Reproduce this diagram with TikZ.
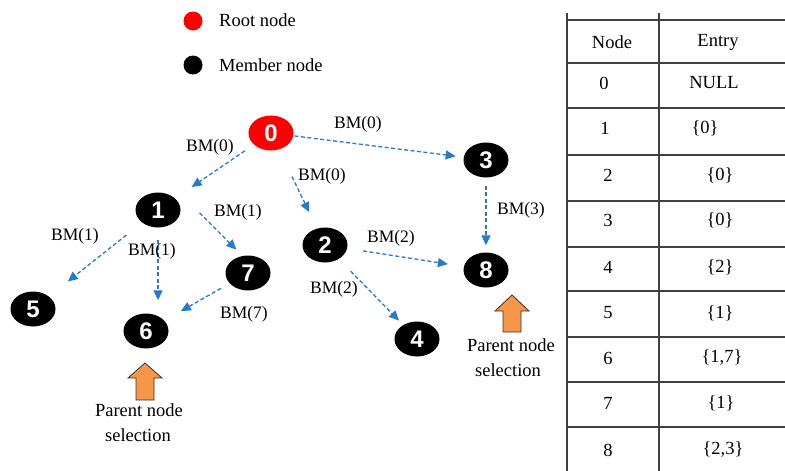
\documentclass[tikz,border=0pt]{standalone}
\usepackage{fontspec}
\setmainfont{Liberation Serif}
\newfontfamily\numfont{Liberation Sans}
\usetikzlibrary{shapes.geometric,arrows.meta}

\definecolor{bmblue}{RGB}{38,122,204}
\definecolor{pickorange}{RGB}{245,150,72}

\tikzset{
  member/.style={ellipse,fill=black,minimum width=45pt,minimum height=35pt,inner sep=0pt,
    text=white,font=\numfont\bfseries\fontsize{24}{24}\selectfont},
  root/.style={member,fill=red},
  bm/.style={bmblue,line width=1.3pt,dash pattern=on 4pt off 2.5pt,
    -{Triangle[length=10pt,width=9pt]}},
  bmlabel/.style={inner sep=1pt,font=\fontsize{17.5}{20}\selectfont},
  cell/.style={inner sep=0pt,font=\fontsize{18.5}{20}\selectfont},
  pick/.style={fill=pickorange,draw=black!80,line width=0.8pt},
  grid/.style={black!75,line width=1.8pt}
}

\begin{document}
\begin{tikzpicture}[x=1pt,y=-1pt]
  \useasboundingbox (0,0) rectangle (785,471);

  % legend
  \node[circle,fill=red,minimum size=19pt,inner sep=0pt] (keyroot) at (193,21) {};
  \node[circle,fill=black,minimum size=19pt,inner sep=0pt] (keymember) at (193,65) {};
  \node[cell,anchor=west] (keyroottext) at (219,20) {Root node};
  \node[cell,anchor=west] (keymembertext) at (219,65) {Member node};

  % tree
  \node[root] (n0) at (271,133) {0};
  \node[member] (n1) at (158,210) {1};
  \node[member] (n2) at (325,245) {2};
  \node[member] (n3) at (486,160) {3};
  \node[member] (n4) at (417,339) {4};
  \node[member] (n5) at (33,309) {5};
  \node[member] (n6) at (146,331) {6};
  \node[member] (n7) at (248,273) {7};
  \node[member] (n8) at (486,270) {8};

  \draw[bm,shorten <=11pt,shorten >=20pt] (n0) -- (n1);
  \draw[bm,shorten <=1pt,shorten >=8pt] (n0) -- (n3);
  \draw[bm,shorten <=30pt,shorten >=18pt] (n0) -- (n2);
  \draw[bm,shorten <=20pt,shorten >=24pt] (n1) -- (n5);
  \draw[bm,shorten <=12pt,shorten >=13pt] (n1.south) -- (n1.south |- n6.north);
  \draw[bm,shorten <=4pt,shorten >=8pt] ([xshift=16pt]n1.east) -- ([xshift=-6pt]n7.north);
  \draw[bm,shorten <=10pt,shorten >=19pt] (n7) -- (n6);
  \draw[bm,shorten <=8pt,shorten >=7pt] (n3.south) -- (n8.north);
  \draw[bm,shorten <=16pt,shorten >=16pt] (n2) -- (n8);
  \draw[bm,shorten <=17pt,shorten >=6pt] (n2) -- (n4);

  \node[bmlabel] (l01) at (210,147) {BM(0)};
  \node[bmlabel] (l03) at (358,124) {BM(0)};
  \node[bmlabel] (l02) at (322,176) {BM(0)};
  \node[bmlabel] (l17) at (238,212) {BM(1)};
  \node[bmlabel] (l15) at (75,236) {BM(1)};
  \node[bmlabel] (l16) at (152,251) {BM(1)};
  \node[bmlabel] (l76) at (244,314) {BM(7)};
  \node[bmlabel] (l38) at (521,210) {BM(3)};
  \node[bmlabel] (l28) at (391,238) {BM(2)};
  \node[bmlabel] (l24) at (334,289) {BM(2)};

  % parent selection marks
  \draw[pick] (136,400) -- ++(0,-22) -- ++(-8,0) -- ++(17,-15) -- ++(17,15) -- ++(-8,0) -- ++(0,22) -- cycle;
  \draw[pick] (503,332) -- ++(0,-21) -- ++(-8,0) -- ++(17,-16) -- ++(17,16) -- ++(-8,0) -- ++(0,21) -- cycle;
  \node[cell] (sel6a) at (139,410) {Parent node};
  \node[cell] (sel6b) at (138,435) {selection};
  \node[cell] (sel8a) at (511,345) {Parent node};
  \node[cell] (sel8b) at (508,370) {selection};

  % entry table
  \draw[grid] (567,13) -- (567,471);
  \draw[grid] (659,13) -- (659,471);
  \draw[grid] (567,20) -- ++(218,0);
  \draw[grid] (567,63) -- ++(218,0);
  \draw[grid] (567,108) -- ++(218,0);
  \draw[grid] (567,155) -- ++(218,0);
  \draw[grid] (567,201) -- ++(218,0);
  \draw[grid] (567,247) -- ++(218,0);
  \draw[grid] (567,291) -- ++(218,0);
  \draw[grid] (567,337) -- ++(218,0);
  \draw[grid] (567,382) -- ++(218,0);
  \draw[grid] (567,427) -- ++(218,0);

  \node[cell] (hnode) at (612,42) {Node};
  \node[cell] (hentry) at (718,42) {Entry};
  \node[cell] (r0n) at (604,83) {0};
  \node[cell] (r0e) at (714,83) {NULL};
  \node[cell] (r1n) at (605,128) {1};
  \node[cell] (r1e) at (705,128) {\{0\}};
  \node[cell] (r2n) at (608,175) {2};
  \node[cell] (r2e) at (720,175) {\{0\}};
  \node[cell] (r3n) at (608,220) {3};
  \node[cell] (r3e) at (720,220) {\{0\}};
  \node[cell] (r4n) at (608,267) {4};
  \node[cell] (r4e) at (720,267) {\{2\}};
  \node[cell] (r5n) at (608,313) {5};
  \node[cell] (r5e) at (720,313) {\{1\}};
  \node[cell] (r6n) at (608,358) {6};
  \node[cell] (r6e) at (722,358) {\{1,7\}};
  \node[cell] (r7n) at (608,403) {7};
  \node[cell] (r7e) at (721,403) {\{1\}};
  \node[cell] (r8n) at (608,450) {8};
  \node[cell] (r8e) at (723,450) {\{2,3\}};
\end{tikzpicture}
\end{document}
